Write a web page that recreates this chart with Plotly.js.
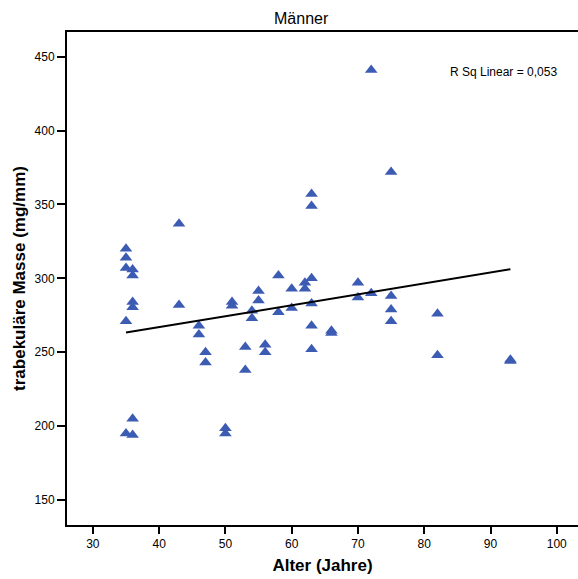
<!DOCTYPE html>
<html>
<head>
<meta charset="utf-8">
<script src="https://cdn.plot.ly/plotly-3.0.1.min.js"></script>
<style>html,body{margin:0;padding:0;background:#fff;}#chart{width:578px;height:579px;}</style>
</head>
<body>
<div id="chart"></div>
<script>
// Age (years) and trabecular mass (mg/mm) for men
const alter = [35,35,35,35,35,36,36,36,36,36,36,43,43,46,46,47,47,50,50,51,51,53,53,54,54,55,55,56,56,58,58,60,60,62,62,63,63,63,63,63,63,66,66,70,70,72,72,75,75,75,75,82,82,93,93];
const masse = [320,314,307,271,195,306,302,284,280.5,205,194,337,282,268,262,250,243,198.5,195,284,281.5,253.5,238,278,273,291.5,285,255,250,302,277,293,280,297,293,357,349,300,283,268,252,264.5,263,297,287,441,290,372,288,279,271,276,248,245,244];
// Linear fit line endpoints
const fitX = [35, 93];
const fitY = [263.3, 306.2];
const rsqText = "R Sq Linear = 0,053";
const xTicks = [30,40,50,60,70,80,90,100];
const yTicks = [150,200,250,300,350,400,450];

const font = "Liberation Sans, Arial, Helvetica, sans-serif";
const data = [
  {x: alter, y: masse, type: 'scatter', mode: 'markers',
   marker: {symbol: 'triangle-up', size: 11, color: '#3c5bb3', line: {width: 0}},
   hoverinfo: 'x+y', showlegend: false},
  {x: fitX, y: fitY, type: 'scatter', mode: 'lines',
   line: {color: '#000', width: 2}, showlegend: false}
];
const layout = {
  width: 578, height: 579,
  margin: {l: 67, r: 0, t: 32, b: 54},
  paper_bgcolor: '#fff', plot_bgcolor: '#fff',
  font: {family: font, color: '#000', size: 12},
  title: {text: 'Männer', font: {size: 16, family: font, color: '#000'},
          xref: 'container', x: 0.521, xanchor: 'center', yref: 'container', y: 0.968, yanchor: 'middle'},
  xaxis: {range: [26.1, 103.2], tickvals: xTicks, ticktext: xTicks.map(String),
          showgrid: false, zeroline: false, showline: true, mirror: true, linecolor: '#000', linewidth: 2,
          ticks: 'outside', ticklen: 7, tickwidth: 2, tickcolor: '#000',
          tickfont: {size: 12, family: font, color: '#000'},
          title: {text: '<b>Alter (Jahre)</b>', font: {size: 17, family: font, color: '#000'}, standoff: 9}},
  yaxis: {range: [133.1, 466.7], tickvals: yTicks, ticktext: yTicks.map(String),
          showgrid: false, zeroline: false, showline: true, linecolor: '#000', linewidth: 2,
          ticks: 'outside', ticklen: 8, tickwidth: 2, tickcolor: '#000',
          tickfont: {size: 12, family: font, color: '#000'},
          title: {text: '<b>trabekuläre Masse (mg/mm)</b>', font: {size: 17, family: font, color: '#000'}, standoff: 5}},
  annotations: [
    {text: rsqText, xref: 'x', yref: 'y', x: 100.4, y: 439.8, xanchor: 'right', yanchor: 'middle',
     showarrow: false, font: {size: 12, family: font, color: '#000'}}
  ]
};
Plotly.newPlot('chart', data, layout, {displayModeBar: false, staticPlot: true});
</script>
</body>
</html>
